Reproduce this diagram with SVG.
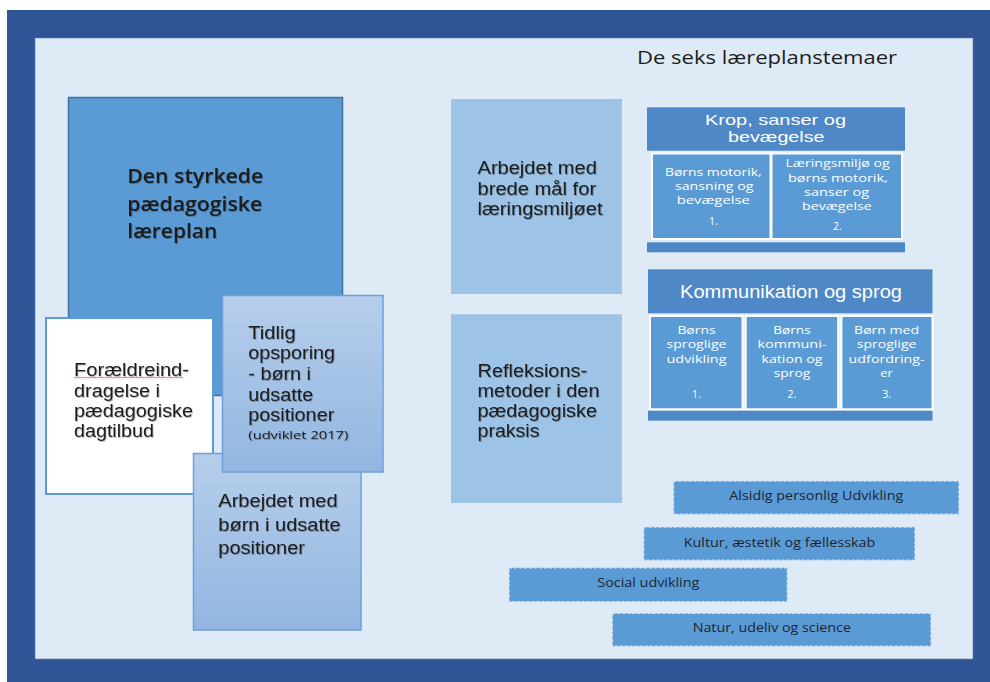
<svg xmlns="http://www.w3.org/2000/svg" width="990" height="682" viewBox="0 0 990 682">
  <defs>
    <linearGradient id="softBlue" x1="0" y1="0" x2="0" y2="1">
      <stop offset="0" stop-color="#B6CEEB"/>
      <stop offset="1" stop-color="#92B6E1"/>
    </linearGradient>
    <filter id="shade" x="-5%" y="-20%" width="110%" height="140%">
      <feDropShadow dx="0.8" dy="0.9" stdDeviation="0.6" flood-color="#000" flood-opacity="0.3"/>
    </filter>
    <pattern id="squiggle" x="74" y="376" width="3" height="3" patternUnits="userSpaceOnUse">
      <path d="M0 2.4 L1.5 0.8 L3 2.4" fill="none" stroke="#E0262B" stroke-width="0.8"/>
    </pattern>
    <style>
      .dark { fill: #1c1c1c; }
      .sans { font-family: "Liberation Sans", Arial, sans-serif; }
      .soft { font-family: "Open Sans", "DejaVu Sans", sans-serif; }
      .lead { font-size: 19px; font-weight: 600; }
      .body { font-size: 17.5px; }
      .head { fill: #ffffff; }
      .cell { font-size: 10.5px; fill: #ffffff; font-weight: 500; }
      .bar-text { font-size: 13px; fill: #1c2533; }
      .cell-box { fill: #5B9BD5; stroke: #ffffff; stroke-width: 2; }
      .band { fill: #4F88C6; }
      .bar { fill: #5B9BD5; stroke: #D3E3F3; stroke-width: 1.4; stroke-dasharray: 3 2; }
      .pale { fill: #9DC3E6; }
      .tile { fill: url(#softBlue); stroke: #6E9FDB; stroke-width: 1.5; }
    </style>
  </defs>

  <!-- page frame -->
  <rect x="7" y="10" width="983" height="672" fill="#2F5597"/>
  <rect x="35" y="38" width="938" height="621" fill="#DEEBF7" stroke="#5A7DB3" stroke-width="0.6"/>

  <text class="soft dark" x="637" y="64" font-size="18" textLength="260" lengthAdjust="spacingAndGlyphs">De seks læreplanstemaer</text>

  <!-- left cluster -->
  <g id="laereplan">
    <rect x="68.5" y="97.5" width="274" height="298" fill="#5B9BD5" stroke="#41719C" stroke-width="1.5"/>
    <g class="soft lead dark" filter="url(#shade)">
      <text x="127.3" y="182.7" textLength="136" lengthAdjust="spacingAndGlyphs">Den styrkede</text>
      <text x="127.3" y="210.7" textLength="135" lengthAdjust="spacingAndGlyphs">pædagogiske</text>
      <text x="127.3" y="238.3" textLength="90" lengthAdjust="spacingAndGlyphs">læreplan</text>
    </g>
  </g>

  <g id="foraeldre">
    <rect x="46" y="318" width="167" height="176" fill="#ffffff" stroke="#5B9BD5" stroke-width="2"/>
    <g class="sans body dark" filter="url(#shade)">
      <text x="74" y="376" textLength="115" lengthAdjust="spacingAndGlyphs">Forældreind-</text>
      <text x="74" y="396.7" textLength="86" lengthAdjust="spacingAndGlyphs">dragelse i</text>
      <text x="74" y="417.3" textLength="119" lengthAdjust="spacingAndGlyphs">pædagogiske</text>
      <text x="74" y="437.3" textLength="80" lengthAdjust="spacingAndGlyphs">dagtilbud</text>
    </g>
    <rect x="74" y="376.5" width="109" height="3" fill="url(#squiggle)"/>
  </g>

  <g id="arbejdet-udsatte">
    <rect class="tile" x="193.5" y="453.5" width="167.5" height="176.5"/>
    <g class="sans body dark" filter="url(#shade)">
      <text x="218.3" y="506.7" textLength="119.4" lengthAdjust="spacingAndGlyphs">Arbejdet med</text>
      <text x="218.3" y="530.7" textLength="122.4" lengthAdjust="spacingAndGlyphs">børn i udsatte</text>
      <text x="218.3" y="554.3" textLength="86.7" lengthAdjust="spacingAndGlyphs">positioner</text>
    </g>
  </g>

  <g id="tidlig-opsporing">
    <rect class="tile" x="222.5" y="295.5" width="160.5" height="176.5"/>
    <g class="sans body dark" filter="url(#shade)">
      <text x="248.3" y="339.3" textLength="47.4" lengthAdjust="spacingAndGlyphs">Tidlig</text>
      <text x="248.3" y="359.3" textLength="86.7" lengthAdjust="spacingAndGlyphs">opsporing</text>
      <text x="248.3" y="380" textLength="62.7" lengthAdjust="spacingAndGlyphs">- børn i</text>
      <text x="248.3" y="400.7" textLength="65" lengthAdjust="spacingAndGlyphs">udsatte</text>
      <text x="248.3" y="421.3" textLength="86" lengthAdjust="spacingAndGlyphs">positioner</text>
      <text class="soft" x="248.3" y="439.3" font-size="11.5" textLength="100" lengthAdjust="spacingAndGlyphs">(udviklet 2017)</text>
    </g>
  </g>

  <!-- middle column -->
  <g id="brede-maal">
    <rect class="pale" x="451" y="99" width="171" height="195"/>
    <g class="sans body dark" filter="url(#shade)">
      <text x="477.5" y="174.3" textLength="119.3" lengthAdjust="spacingAndGlyphs">Arbejdet med</text>
      <text x="477.5" y="195" textLength="118.6" lengthAdjust="spacingAndGlyphs">brede mål for</text>
      <text x="477.5" y="215" textLength="125" lengthAdjust="spacingAndGlyphs">læringsmiljøet</text>
    </g>
  </g>

  <g id="refleksion">
    <rect class="pale" x="451" y="314.3" width="171" height="188.7"/>
    <g class="sans body dark" filter="url(#shade)">
      <text x="477.5" y="376.7" textLength="109.6" lengthAdjust="spacingAndGlyphs">Refleksions-</text>
      <text x="477.5" y="396.7" textLength="122" lengthAdjust="spacingAndGlyphs">metoder i den</text>
      <text x="477.5" y="416.7" textLength="119.6" lengthAdjust="spacingAndGlyphs">pædagogiske</text>
      <text x="477.5" y="436.7" textLength="62" lengthAdjust="spacingAndGlyphs">praksis</text>
    </g>
  </g>

  <!-- theme tables -->
  <g id="krop">
    <rect class="band" x="647" y="107.3" width="258" height="43.4"/>
    <g class="sans head" font-size="14.5" text-anchor="middle">
      <text x="775.5" y="125" textLength="141" lengthAdjust="spacingAndGlyphs">Krop, sanser og</text>
      <text x="776.3" y="141.5" textLength="96.4" lengthAdjust="spacingAndGlyphs">bevægelse</text>
    </g>
    <rect class="cell-box" x="652" y="153.5" width="118.5" height="85.5"/>
    <rect class="cell-box" x="771.5" y="153.5" width="130.5" height="85.5"/>
    <g class="soft cell" text-anchor="middle">
      <text x="713.3" y="176.2" textLength="96.7" lengthAdjust="spacingAndGlyphs">Børns motorik,</text>
      <text x="714.2" y="190.4" textLength="78.3" lengthAdjust="spacingAndGlyphs">sansning og</text>
      <text x="713.3" y="204.4" textLength="73.3" lengthAdjust="spacingAndGlyphs">bevægelse</text>
      <text x="713.3" y="224.8">1.</text>
      <text x="837.5" y="167.3" textLength="104.2" lengthAdjust="spacingAndGlyphs">Læringsmiljø og</text>
      <text x="837.9" y="181.7" textLength="100" lengthAdjust="spacingAndGlyphs">børns motorik,</text>
      <text x="836.5" y="195.9" textLength="65" lengthAdjust="spacingAndGlyphs">sanser og</text>
      <text x="836.9" y="210.2" textLength="69.6" lengthAdjust="spacingAndGlyphs">bevægelse</text>
      <text x="837.5" y="230">2.</text>
    </g>
    <rect class="band" x="647" y="242.3" width="258" height="10"/>
  </g>

  <g id="kommunikation">
    <rect class="band" x="648" y="269.3" width="284.5" height="44"/>
    <text class="sans head" x="791" y="297.7" font-size="17.5" text-anchor="middle" textLength="222" lengthAdjust="spacingAndGlyphs">Kommunikation og sprog</text>
    <rect class="cell-box" x="650" y="316" width="92.5" height="93.3"/>
    <rect class="cell-box" x="745.7" y="316" width="92.5" height="93.3"/>
    <rect class="cell-box" x="841.4" y="316" width="91.1" height="93.3"/>
    <g class="soft cell" text-anchor="middle">
      <text x="696.5" y="334" textLength="38.2" lengthAdjust="spacingAndGlyphs">Børns</text>
      <text x="696.5" y="348.3" textLength="60" lengthAdjust="spacingAndGlyphs">sproglige</text>
      <text x="696.5" y="362.5" textLength="60" lengthAdjust="spacingAndGlyphs">udvikling</text>
      <text x="696.5" y="398.3">1.</text>
      <text x="792" y="334" textLength="37.5" lengthAdjust="spacingAndGlyphs">Børns</text>
      <text x="792" y="348.3" textLength="68.9" lengthAdjust="spacingAndGlyphs">kommuni-</text>
      <text x="792" y="362.5" textLength="61" lengthAdjust="spacingAndGlyphs">kation og</text>
      <text x="792" y="376.9" textLength="36.4" lengthAdjust="spacingAndGlyphs">sprog</text>
      <text x="792" y="398.3">2.</text>
      <text x="886.6" y="334" textLength="65" lengthAdjust="spacingAndGlyphs">Børn med</text>
      <text x="886.6" y="348.3" textLength="59.6" lengthAdjust="spacingAndGlyphs">sproglige</text>
      <text x="886.6" y="362.5" textLength="76" lengthAdjust="spacingAndGlyphs">udfordring-</text>
      <text x="886.6" y="376.9" textLength="12.5" lengthAdjust="spacingAndGlyphs">er</text>
      <text x="886.6" y="398.3">3.</text>
    </g>
    <rect class="band" x="648" y="410.7" width="284.5" height="10"/>
  </g>

  <!-- remaining themes -->
  <g id="alsidig">
    <rect class="bar" x="673.5" y="481" width="285.5" height="33.3"/>
    <text class="soft bar-text" x="816.3" y="500" text-anchor="middle" textLength="174" lengthAdjust="spacingAndGlyphs">Alsidig personlig Udvikling</text>
  </g>
  <g id="kultur">
    <rect class="bar" x="643.7" y="527" width="271.3" height="33.3"/>
    <text class="soft bar-text" x="779.5" y="546.7" text-anchor="middle" textLength="191.6" lengthAdjust="spacingAndGlyphs">Kultur, æstetik og fællesskab</text>
  </g>
  <g id="social">
    <rect class="bar" x="509" y="567.7" width="278.3" height="34"/>
    <text class="soft bar-text" x="648.3" y="587.3" text-anchor="middle" textLength="102" lengthAdjust="spacingAndGlyphs">Social udvikling</text>
  </g>
  <g id="natur">
    <rect class="bar" x="612.3" y="613.3" width="318.7" height="33"/>
    <text class="soft bar-text" x="771.8" y="632.3" text-anchor="middle" textLength="158.3" lengthAdjust="spacingAndGlyphs">Natur, udeliv og science</text>
  </g>
</svg>
